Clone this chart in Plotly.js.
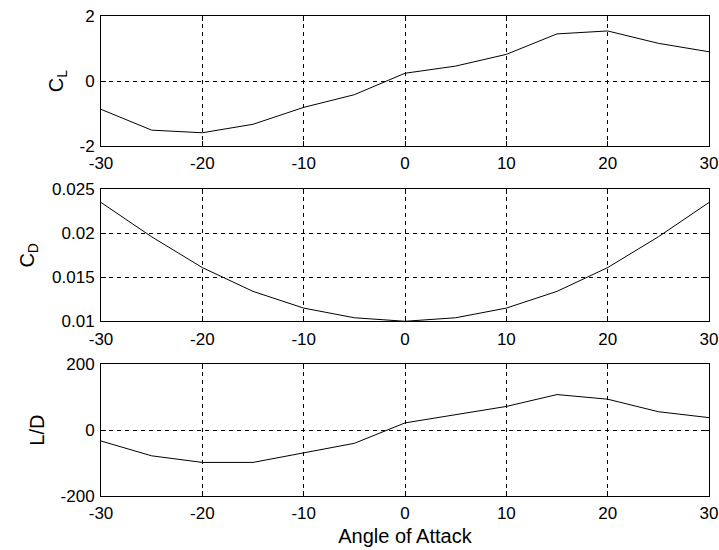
<!DOCTYPE html>
<html>
<head>
<meta charset="utf-8">
<script src="https://cdn.plot.ly/plotly-3.0.1.min.js"></script>
<style>html,body{margin:0;padding:0;background:#fff;}#plot{width:719px;height:550px;}</style>
</head>
<body>
<div id="plot"></div>
<script>
const alpha = [-30, -25, -20, -15, -10, -5, 0, 5, 10, 15, 20, 25, 30];
const CL = [-0.87, -1.51, -1.59, -1.33, -0.81, -0.42, 0.24, 0.46, 0.82, 1.45, 1.54, 1.16, 0.90];
const CD = [0.0235, 0.0196, 0.0161, 0.0134, 0.0115, 0.0104, 0.0100, 0.0104, 0.0115, 0.0134, 0.0161, 0.0196, 0.0235];
const LD = [-33, -78, -98, -98, -69, -40, 22, 47, 72, 108, 94, 56, 38];
const xTicks = [-30, -20, -10, 0, 10, 20, 30];
const xTickText = ['-30', '-20', '-10', '0', '10', '20', '30'];
const clTicks = [-2, 0, 2];
const clTickText = ['-2', '0', '2'];
const cdTicks = [0.01, 0.015, 0.02, 0.025];
const cdTickText = ['0.01', '0.015', '0.02', '0.025'];
const ldTicks = [-200, 0, 200];
const ldTickText = ['-200', '0', '200'];

const fontFam = '"Liberation Sans", Arial, sans-serif';
const line = {color: 'black', width: 1};

const traces = [
  {x: alpha, y: CL, xaxis: 'x', yaxis: 'y', mode: 'lines', line: line},
  {x: alpha, y: CD, xaxis: 'x2', yaxis: 'y2', mode: 'lines', line: line},
  {x: alpha, y: LD, xaxis: 'x3', yaxis: 'y3', mode: 'lines', line: line}
];

function xax(anchor) {
  return {
    anchor: anchor, domain: [0, 1], range: [-30, 30], tickvals: xTicks, ticktext: xTickText,
    showgrid: true, gridcolor: 'black', griddash: '4px,4px', gridwidth: 1,
    zeroline: false, showline: true, mirror: 'ticks', linecolor: 'black', linewidth: 1,
    ticks: 'inside', ticklen: 5, tickcolor: 'black', ticklabelstandoff: 2
  };
}
function yax(anchor, dom, range, ticks, text, title, standoff) {
  return {
    anchor: anchor, domain: dom, range: range, tickvals: ticks, ticktext: text,
    showgrid: true, gridcolor: 'black', griddash: '4px,4px', gridwidth: 1,
    zeroline: false, showline: true, mirror: 'ticks', linecolor: 'black', linewidth: 1,
    ticks: 'inside', ticklen: 5, tickcolor: 'black', ticklabelstandoff: 2,
    title: {text: title, standoff: standoff}
  };
}

const layout = {
  width: 719, height: 550,
  margin: {l: 101, r: 10, t: 16, b: 54},
  paper_bgcolor: 'white', plot_bgcolor: 'white',
  showlegend: false,
  font: {family: fontFam, size: 17, color: 'black'},
  xaxis: xax('y'),
  xaxis2: xax('y2'),
  xaxis3: Object.assign(xax('y3'), {title: {text: 'Angle of Attack', standoff: 6}}),
  yaxis: yax('x', [0.729, 1], [-2, 2], clTicks, clTickText, 'C<sub>L</sub>', 10),
  yaxis2: yax('x2', [0.364, 0.639], [0.01, 0.025], cdTicks, cdTickText, 'C<sub>D</sub>', 12),
  yaxis3: yax('x3', [0, 0.2744], [-200, 200], ldTicks, ldTickText, 'L/D', 10)
};

Plotly.newPlot('plot', traces, layout, {displayModeBar: false, staticPlot: true});
</script>
</body>
</html>
